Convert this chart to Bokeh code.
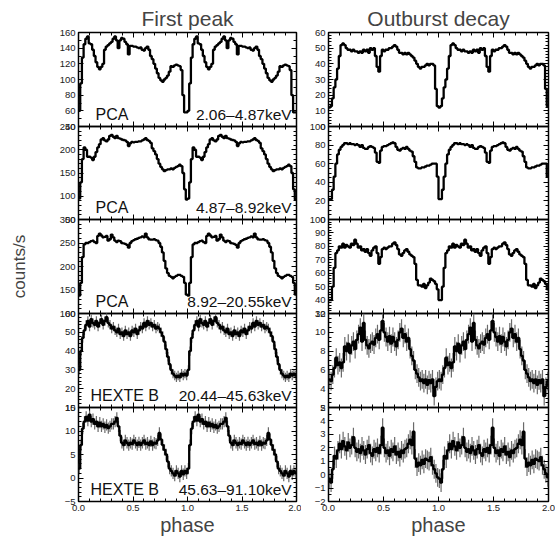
import numpy as np
from bokeh.plotting import figure
from bokeh.layouts import row, column
from bokeh.models import Range1d, FixedTicker, LinearAxis, Label, CustomJSTickFormatter
from bokeh.embed import file_html
from bokeh.resources import INLINE

FONT = "Liberation Sans"
NBIN = 64

# ---------------- data (one pulse cycle, 64 phase bins; plotted twice) ----------------
# First peak
fp_pca_1 = [60, 95, 128, 145, 152, 155, 146, 145, 138, 130,
            122, 116, 113, 116, 120, 138, 142, 144, 146, 148,
            152, 155, 150, 140, 150, 153, 152, 148, 145, 132,
            143, 143, 142, 142, 141, 140, 141, 138, 137, 140,
            142, 138, 130, 126, 120, 114, 108, 102, 99, 97,
            100, 102, 105, 110, 117, 116, 118, 119, 118, 117,
            112, 80, 58, 58]
fp_pca_2 = [95, 130, 180, 205, 200, 185, 185, 183, 178, 185,
            195, 205, 212, 222, 225, 220, 218, 222, 230, 232,
            228, 225, 230, 225, 224, 222, 221, 220, 217, 208,
            214, 217, 216, 217, 217, 218, 218, 220, 222, 225,
            221, 219, 215, 203, 197, 190, 180, 170, 163, 158,
            154, 156, 158, 158, 160, 158, 161, 163, 165, 168,
            165, 150, 115, 93]
fp_pca_3 = [138, 165, 220, 247, 250, 250, 252, 254, 255, 252,
            250, 265, 270, 266, 262, 263, 265, 255, 258, 268,
            262, 255, 252, 255, 254, 250, 249, 248, 246, 240,
            250, 254, 256, 258, 259, 261, 262, 264, 262, 270,
            262, 258, 257, 257, 258, 256, 255, 250, 242, 230,
            212, 196, 186, 180, 178, 175, 178, 180, 182, 182,
            180, 178, 165, 140]
fp_hexte_1 = [30, 40, 47, 51, 54, 56, 53, 57, 55, 54,
              56, 53, 55, 57, 54, 56, 58, 55, 54, 52,
              53, 51, 50, 52, 49, 50, 48, 51, 49, 50,
              48, 51, 50, 52, 49, 51, 53, 52, 55, 53,
              56, 54, 55, 53, 54, 52, 53, 52, 50, 48,
              45, 41, 37, 33, 30, 28, 27, 26, 27, 26,
              28, 27, 28, 27]
fp_hexte_2 = [2, 7, 10.5, 12, 13, 12.2, 13.5, 12, 12.5, 11.5,
              12, 11, 11.8, 11, 11.5, 10.8, 11.3, 10.6, 11, 11.5,
              11.5, 12, 12.8, 11, 9, 7.5, 7, 8, 7.5, 7,
              7.5, 7.2, 8, 7.5, 7, 7.6, 7, 7.5, 8, 7.2,
              7.5, 7, 7.8, 7, 7.5, 7.3, 8, 9.6, 8.2, 7,
              6, 5, 3.5, 2, 1.5, 1, 0.5, 1.5, 1, 0.3,
              1.5, 0.8, 1.5, 1]

# Outburst decay
od_pca_1 = [12, 13, 18, 25, 30, 37, 45, 52, 53, 52,
            50, 49, 49, 48, 49, 48, 48, 47, 48, 47,
            49, 48, 49, 47, 50, 49, 50, 45, 38, 35,
            45, 49, 48, 49, 49, 50, 50, 51, 52, 51,
            49, 47, 47, 46, 47, 46, 47, 46, 45, 44,
            42, 40, 38, 37, 38, 38, 39, 40, 39, 40,
            40, 39, 24, 13]
od_pca_2 = [22, 22, 32, 46, 60, 70, 75, 78, 80, 82,
            82, 81, 82, 81, 81, 80, 81, 80, 78, 80,
            77, 76, 76, 78, 79, 78, 77, 72, 62, 61,
            74, 78, 79, 79, 80, 81, 82, 83, 82, 78,
            75, 74, 76, 77, 76, 78, 76, 74, 73, 68,
            62, 56, 55, 55, 56, 56, 57, 58, 58, 59,
            60, 60, 60, 46]
od_pca_3 = [40, 40, 50, 64, 75, 77, 80, 79, 82, 79,
            81, 80, 79, 82, 81, 85, 82, 79, 80, 77,
            78, 76, 78, 75, 73, 77, 79, 80, 75, 67,
            72, 78, 79, 78, 79, 80, 80, 82, 83, 81,
            78, 74, 73, 75, 77, 78, 76, 74, 73, 72,
            67, 55, 51, 51, 50, 52, 49, 51, 53, 56,
            55, 54, 52, 48]
od_hexte_1 = [5.0, 4.8, 5.5, 6.2, 7.3, 6.5, 6.8, 6.2, 6.8, 8.5,
              8.0, 8.8, 7.8, 8.6, 9.0, 8.2, 9.2, 9.8, 10.5, 9.0,
              11.0, 9.2, 8.6, 8.3, 8.8, 9.0, 8.7, 9.4, 9.8, 9.2,
              10.2, 11.2, 10.0, 9.5, 9.0, 9.6, 8.8, 9.5, 9.0, 8.5,
              9.2, 10.0, 10.4, 9.4, 9.8, 9.0, 9.4, 8.2, 7.5, 7.0,
              6.0, 5.6, 5.2, 4.8, 5.0, 4.6, 5.0, 4.4, 4.9, 4.6,
              5.0, 3.2, 4.2, 4.8]
od_hexte_2 = [-0.3, -0.6, 0.4, 1.4, 1.2, 1.8, 2.3, 1.9, 2.5, 2.1,
              1.8, 2.4, 2.0, 2.2, 2.8, 2.0, 1.7, 1.9, 1.6, 2.1,
              1.8, 1.5, 1.9, 2.2, 1.6, 1.4, 1.9, 1.7, 2.0, 1.6,
              2.2, 3.5, 2.0, 1.6, 1.8, 1.4, 1.9, 1.7, 2.1, 1.5,
              1.7, 1.3, 1.8, 1.6, 1.9, 2.0, 2.3, 2.6, 2.2, 3.2,
              1.2, 0.6, 0.9, 0.7, 1.1, 0.8, 1.2, 1.1, 1.0, 1.3,
              0.7, 0.4, 0.1, -0.2]

# HEXTE typical 1-sigma errors (counts/s)
hexte_err = {"fp_hexte_1": 2.5, "fp_hexte_2": 1.2, "od_hexte_1": 1.0, "od_hexte_2": 0.7}

instruments = ["PCA", "PCA", "PCA", "HEXTE B", "HEXTE B"]
energies = ["2.06\u20134.87keV", "4.87\u20138.92keV", "8.92\u201320.55keV",
            "20.44\u201345.63keV", "45.63\u201391.10keV"]

left_ranges = [(40, 160, 20, 10), (50, 250, 50, 10), (100, 300, 50, 10), (10, 60, 10, 2), (-5, 15, 5, 1)]
right_ranges = [(0, 60, 10, 2), (0, 100, 20, 5), (30, 100, 10, 2), (2, 12, 2, 0.5), (-2, 5, 1, 0.5)]

x_major = [0, 0.5, 1.0, 1.5, 2.0]
x_minor = [round(0.1 * k, 2) for k in range(21)]

FRAME_H = [94, 93, 94, 94, 94]
PAD = 6  # transparent border above/below each inner frame (overlapped by neighbours)

phase_edges = np.arange(2 * NBIN + 1) / NBIN
phase_centers = (np.arange(2 * NBIN) + 0.5) / NBIN

yfmt_code = "return (tick < 0 ? '\\u2212' : '') + Math.abs(tick).toString();"
xfmt_code = "return tick.toFixed(1);"


def style_axis(ax, labels, size="9.5px"):
    ax.major_tick_in = 5
    ax.major_tick_out = 0
    ax.minor_tick_in = 3
    ax.minor_tick_out = 0
    ax.axis_line_color = None
    ax.major_tick_line_color = "black"
    ax.minor_tick_line_color = "black"
    ax.major_label_text_font = FONT
    if labels:
        ax.major_label_text_color = "#222222"
        ax.major_label_text_font_size = size
        ax.major_label_standoff = 3
    else:
        ax.major_label_text_color = None
        ax.major_label_text_font_size = "0px"
        ax.major_label_standoff = 0


def make_panel(col, idx, name, values, yr, err=None):
    left = col == 0
    top = idx == 0
    bottom = idx == 4
    ylo, yhi, ystep, yminor = yr
    fw = 218 if left else 220
    lb = 78 if left else 27
    rb = 5 if left else 7
    tb = 32 if top else PAD
    bb = 37 if bottom else PAD
    kw = {}
    if top:
        kw["title"] = "First peak" if left else "Outburst decay"
    else:
        kw["title"] = None
    p = figure(width=lb + fw + rb, height=tb + FRAME_H[idx] + bb,
               x_range=Range1d(0, 2), y_range=Range1d(ylo, yhi),
               output_backend="svg", toolbar_location=None, tools="",
               min_border_left=lb, min_border_right=rb,
               min_border_top=tb, min_border_bottom=bb, **kw)
    if not top:
        p.margin = (-2 * PAD, 0, 0, 0)
    p.background_fill_color = None
    p.border_fill_color = None
    p.outline_line_color = "black"
    p.outline_line_width = 1.5
    p.xgrid.visible = False
    p.ygrid.visible = False

    nmaj = int(round((yhi - ylo) / ystep))
    yticks = [ylo + k * ystep for k in range(nmaj + 1)]
    nmin = int(round((yhi - ylo) / yminor))
    yminors = [round(ylo + k * yminor, 4) for k in range(nmin + 1)]
    yt = FixedTicker(ticks=yticks, minor_ticks=yminors)
    xt = FixedTicker(ticks=x_major, minor_ticks=x_minor)

    xa = p.below[0]
    ya = p.left[0]
    xa.ticker = xt
    ya.ticker = yt
    xa.formatter = CustomJSTickFormatter(code=xfmt_code)
    ya.formatter = CustomJSTickFormatter(code=yfmt_code)
    style_axis(xa, bottom)
    style_axis(ya, True)

    ax_top = LinearAxis(ticker=xt)
    style_axis(ax_top, False)
    p.add_layout(ax_top, "above")
    ax_right = LinearAxis(ticker=yt)
    style_axis(ax_right, False)
    p.add_layout(ax_right, "right")

    if top:
        p.title.align = "center"
        p.title.text_font = FONT
        p.title.text_font_size = "21px"
        p.title.text_font_style = "normal"
        p.title.standoff = 5

    if bottom:
        xa.axis_label = "phase"
        xa.axis_label_text_font = FONT
        xa.axis_label_text_font_size = "20px"
        xa.axis_label_text_font_style = "normal"
        xa.axis_label_standoff = 0

    if left and idx == 2:
        ya.axis_label = "counts/s"
        ya.axis_label_text_font = FONT
        ya.axis_label_text_font_size = "17px"
        ya.axis_label_text_font_style = "normal"
        ya.axis_label_standoff = 28

    v = np.array(values, dtype=float)
    v2 = np.concatenate([v, v])
    if err is not None:
        p.segment(x0=phase_centers, y0=v2 - err, x1=phase_centers, y1=v2 + err,
                  line_color="#6a6a6a", line_width=1.2)
    p.step(x=phase_edges, y=np.append(v2, v2[-1]), mode="after",
           line_color="black", line_width=2.3)

    if left:
        ybase = ylo + 0.13 * (yhi - ylo)
        inst = instruments[idx]
        p.add_layout(Label(x=0.156 if inst == "PCA" else 0.11, y=ybase, text=inst,
                           text_font=FONT, text_font_size="16px",
                           text_baseline="alphabetic", text_align="left",
                           text_color="#111111"))
        p.add_layout(Label(x=1.955, y=ybase, text=energies[idx],
                           text_font=FONT, text_font_size="15.5px",
                           text_baseline="alphabetic", text_align="right",
                           text_color="#111111"))
    return p


left_data = [("fp_pca_1", fp_pca_1), ("fp_pca_2", fp_pca_2), ("fp_pca_3", fp_pca_3),
             ("fp_hexte_1", fp_hexte_1), ("fp_hexte_2", fp_hexte_2)]
right_data = [("od_pca_1", od_pca_1), ("od_pca_2", od_pca_2), ("od_pca_3", od_pca_3),
              ("od_hexte_1", od_hexte_1), ("od_hexte_2", od_hexte_2)]

left_figs = [make_panel(0, i, n, d, left_ranges[i], hexte_err.get(n)) for i, (n, d) in enumerate(left_data)]
right_figs = [make_panel(1, i, n, d, right_ranges[i], hexte_err.get(n)) for i, (n, d) in enumerate(right_data)]

layout = row(column(*left_figs, spacing=0), column(*right_figs, spacing=0), spacing=0)

open("out.html", "w").write(file_html(layout, INLINE))
